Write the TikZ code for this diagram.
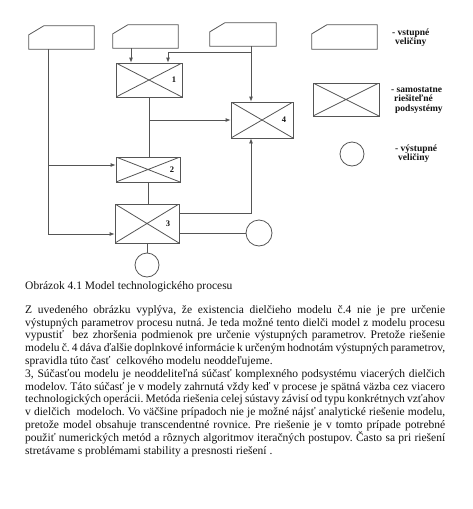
\documentclass[tikz,border=0pt]{standalone}
\usepackage{fontspec}
\setmainfont{Liberation Serif}
\usepackage{tikz}
\usetikzlibrary{positioning,calc,arrows.meta}
\definecolor{ModLine}{HTML}{555555}
\definecolor{ModText}{HTML}{111111}

\begin{document}
\begin{tikzpicture}[x=1pt,y=-1pt,
  linka/.style={ModLine,line width=0.8pt},
  sipka/.style={linka,-{Latex[length=5pt,width=4pt]}},
  vstup/.style={rectangle,inner sep=0pt,minimum width=65pt,minimum height=23pt},
  podsys/.style={linka,draw,rectangle,inner sep=0pt,
     path picture={\draw[linka] (path picture bounding box.north west)--(path picture bounding box.south east)
                     (path picture bounding box.south west)--(path picture bounding box.north east);}},
  vystup/.style={linka,draw,circle,inner sep=0pt,minimum size=24pt},
  cislo/.style={text=ModText,font=\fontsize{8.5}{8.5}\bfseries\selectfont,inner sep=0pt},
  legtext/.style={text=ModText,font=\fontsize{9.5}{9.5}\bfseries\selectfont,align=left,anchor=west,inner sep=0pt}]
  \useasboundingbox (0,0) rectangle (472,509);
  % inputs
  \node[vstup] (v1) at (61.5,37.5) {};
  \node[vstup] (v2) at (145.5,36.5) {};
  \node[vstup,minimum width=66pt] (v3) at (243,34.5) {};
  % subsystems
  \node[podsys,minimum width=66pt,minimum height=34pt] (b1) at (149,80) {};
  \node[podsys,minimum width=64pt,minimum height=25pt] (b2) at (148,169.5) {};
  \node[podsys,minimum width=64pt,minimum height=39pt] (b3) at (147,223.5) {};
  \node[podsys,minimum width=62pt,minimum height=36pt] (b4) at (262,120) {};
  \node[cislo,left=6pt of b1.east] (c1) {1};
  \node[cislo,left=6pt of b2.east] (c2) {2};
  \node[cislo,left=9pt of b3.east] (c3) {3};
  \node[cislo,left=7pt of b4.east] (c4) {4};
  % outputs
  \node[vystup] (o1) at (147,265) {};
  \node[vystup,minimum size=26pt] (o2) at (259,233) {};
  % connections
  \draw[sipka] ([xshift=-13.5pt]v1.south) |- ([yshift=4.5pt]b2.west);
  \draw[sipka] ([xshift=-13.5pt]v1.south) |- ([yshift=-10.5pt]b3.west);
  \draw[sipka] ([xshift=-14.5pt]v2.south) -- ([xshift=-14.5pt]v2.south |- b1.north);
  \draw[sipka] ([xshift=8pt]v3.south) -- ([xshift=8pt]v3.south |- b4.north);
  \draw[sipka] ([xshift=8pt,yshift=-6pt]v3.south) -| ([xshift=19pt]b1.north);
  \draw[linka] (b1.south) -- (b1.south |- b2.north);
  \draw[sipka] (b1.south |- b4.west) -- (b4.west);
  \draw[linka] (b2.south) -- (b2.south |- b3.north);
  \draw[sipka] ([yshift=10.5pt]b3.east) -| ([xshift=-11pt]b4.south);
  \draw[linka] ([yshift=-9.5pt]b3.east) -- (o2.west);
  \draw[linka] (b3.south) -- (o1.north);
  % legend
  \node[vstup,minimum width=65pt,minimum height=24pt] (lv) at (344.5,37) {};
  \node[podsys,minimum width=66pt,minimum height=33pt] (lb) at (346,99.5) {};
  \node[vystup] (lo) at (352,154) {};
  \node[legtext] (tv) at (392,37.5) {- vstupné\\\hspace*{3pt}veličiny};
  \node[legtext] (tb) at (391,100) {- samostatne\\\hspace*{3pt}riešiteľné\\\hspace*{4pt}podsystémy};
  \node[legtext] (to) at (395,153.5) {- výstupné\\\hspace*{3pt}veličiny};
  % cut corner of the input blocks
  \foreach \n in {v1,v2,v3,lv}{
     \draw[linka] (\n.south west) -- ([yshift=-9pt]\n.north west) -- ([xshift=15pt]\n.north west)
        -- (\n.north east) -- (\n.south east) -- cycle;}
  % caption and text
  \node[anchor=west,inner sep=0pt,text=ModText,font=\fontsize{11.5}{12.8}\selectfont] (cap) at (25,287)
     {Obrázok 4.1 Model technologického procesu};
  \node[anchor=north west,inner sep=0pt,text=ModText,text width=420pt,align=justify,
        font=\fontsize{11.5}{12.8}\selectfont\frenchspacing] (par) at (25,305) {%
Z uvedeného obrázku vyplýva, že existencia dielčieho modelu č.4 nie je pre určenie\linebreak
výstupných parametrov procesu nutná. Je teda možné tento dielči model z modelu procesu\linebreak
vypustiť \ bez zhoršenia podmienok pre určenie výstupných parametrov. Pretože riešenie\linebreak
modelu č. 4 dáva ďalšie doplnkové informácie k určeným hodnotám výstupných parametrov,\linebreak
spravidla túto časť \ celkového modelu neoddeľujeme.\\
3, Súčasťou modelu je neoddeliteľná súčasť komplexného podsystému viacerých dielčich\linebreak
modelov. Táto súčasť je v modely zahrnutá vždy keď v procese je spätná väzba cez viacero\linebreak
technologických operácii. Metóda riešenia celej sústavy závisí od typu konkrétnych vzťahov\linebreak
v dielčich \ modeloch. Vo väčšine prípadoch nie je možné nájsť analytické riešenie modelu,\linebreak
pretože model obsahuje transcendentné rovnice. Pre riešenie je v tomto prípade potrebné\linebreak
použiť numerických metód a rôznych algoritmov iteračných postupov. Často sa pri riešení\linebreak
stretávame s problémami stability a presnosti riešení .};
\end{tikzpicture}
\end{document}
